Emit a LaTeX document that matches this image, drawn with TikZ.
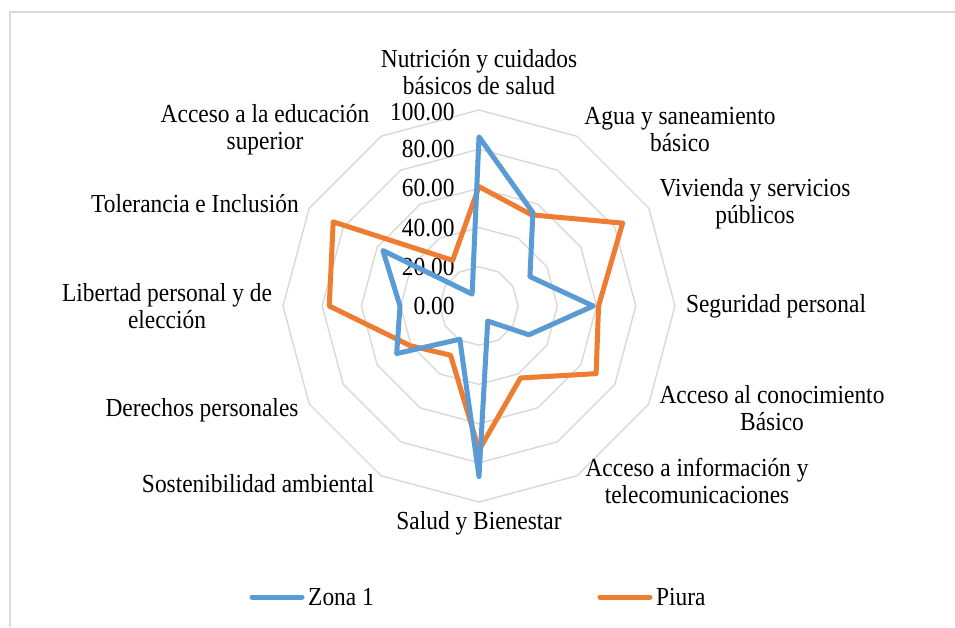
\documentclass[tikz,border=0pt]{standalone}
\usepackage{fontspec}
\setmainfont{Liberation Serif}[FakeStretch=0.9]
\definecolor{zonacol}{HTML}{5B9BD5}
\definecolor{piuracol}{HTML}{ED7D31}
\definecolor{gridcol}{HTML}{D9D9D9}
\begin{document}
\begin{tikzpicture}[x=1pt,y=-1pt,
  lbl/.style={inner sep=0pt,align=center,font=\fontsize{26}{27}\selectfont},
  tick/.style={inner sep=0pt,anchor=east,font=\fontsize{26}{27}\selectfont},
  ring/.style={draw=gridcol,line width=1.4pt},
  zona/.style={draw=zonacol,line width=5pt,line join=round,line cap=round},
  piura/.style={draw=piuracol,line width=5pt,line join=round,line cap=round}]
\useasboundingbox (0,0) rectangle (955,627);
\fill[white] (0,0) rectangle (955,627);
\draw[gridcol,line width=2pt] (10,627) -- (10,12) -- (955,12);
\begin{scope}[shift={(479,306)},x=1.96pt,y=-1.96pt]
  \foreach \r in {20,40,60,80,100}{
    \draw[ring] (-90:\r) \foreach \k in {1,...,11}{ -- ({-90+30*\k}:\r)} -- cycle;
  }
  \foreach \v in {0,20,40,60,80}{
    \node[tick] (t\v) at (-12.4,-\v) {\v.00};
  }
  \node[tick] (t100) at (-12.4,-99.2) {100.00};
  \draw[piura] (-90:60.9) -- (-60:53.7) -- (-30:84.6) -- (0:61) -- (30:69) -- (60:42.4)
    -- (90:73.5) -- (120:29) -- (150:40.5) -- (180:76.4) -- (210:85.9) -- (240:26.9) -- cycle;
  \draw[zona] (-90:86.3) -- (-60:55) -- (-30:30) -- (0:58.3) -- (30:29.4) -- (60:8.9)
    -- (90:87) -- (120:19.6) -- (150:48.5) -- (180:40.3) -- (210:56.6) -- (240:7) -- cycle;
\end{scope}
\node[lbl] (n0) at (479,72) {Nutrición y cuidados\\básicos de salud};
\node[lbl] (n1) at (680,130) {Agua y saneamiento\\básico};
\node[lbl] (n2) at (755,204) {Vivienda y servicios\\públicos};
\node[lbl] (n3) at (776,306) {Seguridad personal};
\node[lbl] (n4) at (772,408) {Acceso al conocimiento\\Básico};
\node[lbl] (n5) at (697,481) {Acceso a información y\\telecomunicaciones};
\node[lbl] (n6) at (479,523) {Salud y Bienestar};
\node[lbl] (n7) at (258,484) {Sostenibilidad ambiental};
\node[lbl] (n8) at (202,410) {Derechos personales};
\node[lbl] (n9) at (167,306) {Libertad personal y de\\elección};
\node[lbl] (n10) at (195,204) {Tolerancia e Inclusión};
\node[lbl] (n11) at (265,130) {Acceso a la educación\\superior};
\coordinate (lz) at (252,597);
\node[lbl,anchor=west] (tz) at (308,597) {Zona 1};
\draw[draw=zonacol,line width=5pt,line cap=round] (lz) -- ([xshift=-6pt]tz.west);
\coordinate (lp) at (600,597);
\node[lbl,anchor=west] (tp) at (656,597) {Piura};
\draw[draw=piuracol,line width=5pt,line cap=round] (lp) -- ([xshift=-6pt]tp.west);
\end{tikzpicture}
\end{document}
